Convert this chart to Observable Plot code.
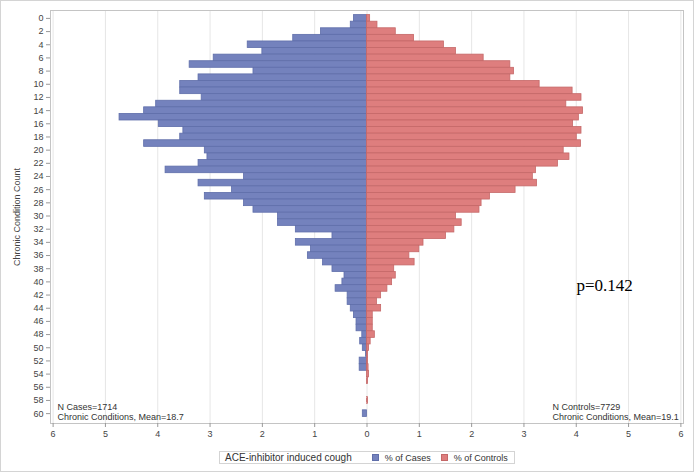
<!DOCTYPE html>
<html>
<head>
<meta charset="utf-8">
<script src="https://cdn.jsdelivr.net/npm/d3@7"></script>
<script src="https://cdn.jsdelivr.net/npm/@observablehq/plot@0.6"></script>
<style>
  html, body { margin: 0; padding: 0; background: #fff; }
  #wrap { position: relative; width: 695px; height: 473px; overflow: hidden; font-family: "Liberation Sans", Arial, sans-serif; }
  #border { position: absolute; left: 0; top: 0; width: 692px; height: 470px; border: 1px solid #d4d4d4; }
  #chart { position: absolute; left: 0; top: 0; }
  #legend { position: absolute; left: 219px; top: 451px; width: 294px; height: 11px; border: 1px solid #d4d4d4; font-size: 10px; color: #333; display: flex; align-items: center; white-space: nowrap; background: #fff; }
  #legend .title { margin-left: 5px; margin-right: 20px; }
  #legend .sw { display: inline-block; width: 5px; height: 5px; margin-right: 6px; }
  #legend .item { font-size: 9px; margin-right: 10px; display: flex; align-items: center; }
</style>
</head>
<body>
<div id="wrap">
  <div id="border"></div>
  <div id="chart"></div>
  <div id="legend"></div>
</div>
<script>
// ---- data ----
const counts = d3.range(0, 61);
const casesPct = [
  0.25, 0.31, 0.88, 1.41, 2.28, 2.00, 2.93, 3.39, 2.17, 3.22,
  3.57, 3.57, 3.16, 4.03, 4.26, 4.73, 3.98, 3.51, 3.57, 4.26,
  3.10, 3.05, 3.22, 3.85, 2.35, 3.22, 2.58, 3.10, 2.35, 2.17,
  1.70, 1.70, 1.36, 0.66, 1.36, 1.07, 1.13, 0.84, 0.66, 0.43,
  0.47, 0.60, 0.37, 0.37, 0.31, 0.25, 0.20, 0.20, 0.09, 0.13,
  0.08, 0.02, 0.14, 0.14, 0, 0, 0, 0, 0, 0,
  0.08
];
const controlsPct = [
  0.06, 0.20, 0.55, 0.90, 1.47, 1.70, 2.23, 2.74, 2.81, 2.74,
  3.30, 3.93, 4.10, 3.81, 4.13, 4.05, 3.94, 4.10, 4.01, 4.09,
  3.76, 3.87, 3.65, 3.23, 3.17, 3.25, 2.84, 2.35, 2.19, 2.15,
  1.70, 1.81, 1.67, 1.51, 1.08, 1.00, 0.81, 0.91, 0.52, 0.55,
  0.48, 0.39, 0.27, 0.19, 0.27, 0.11, 0.11, 0.11, 0.15, 0.07,
  0.04, 0.02, 0.02, 0.03, 0.04, 0.02, 0, 0, 0.02, 0,
  0
];
const xTicks = [-6, -5, -4, -3, -2, -1, 0, 1, 2, 3, 4, 5, 6];
const yTicks = d3.range(0, 61, 2);
const yLabel = "Chronic Condition Count";
const legendTitle = "ACE-inhibitor induced cough";
const seriesNames = ["% of Cases", "% of Controls"];
const seriesColors = ["#7482bd", "#de7e7e"];
const seriesStrokes = ["#5f6eaa", "#c56868"];
const nCases = 1714, meanCases = 18.7;
const nControls = 7729, meanControls = 19.1;
const pValue = "p=0.142";

const rows = counts.map((k, i) => ({k, cases: casesPct[i], controls: controlsPct[i]}));

const chart = Plot.plot({
  width: 695,
  height: 442,
  marginLeft: 50,
  marginRight: 12,
  marginTop: 10,
  marginBottom: 19,
  style: {fontFamily: "'Liberation Sans', Arial, sans-serif", fontSize: "9px", color: "#444", background: "transparent"},
  x: {domain: [-6.05, 6.05]},
  y: {domain: [-1.2, 61.5], reverse: true},
  marks: [
    Plot.gridX(xTicks, {stroke: "#e6e6e6", strokeOpacity: 1}),
    Plot.rectX(rows.filter(d => d.cases > 0), {
      x1: 0, x2: d => -d.cases,
      y1: d => d.k - 0.5, y2: d => d.k + 0.5,
      fill: seriesColors[0], stroke: seriesStrokes[0], strokeWidth: 0.8
    }),
    Plot.rectX(rows.filter(d => d.controls > 0), {
      x1: 0, x2: d => d.controls,
      y1: d => d.k - 0.5, y2: d => d.k + 0.5,
      fill: seriesColors[1], stroke: seriesStrokes[1], strokeWidth: 0.8
    }),
    Plot.frame({stroke: "#c4c4c4"}),
    Plot.axisX({ticks: xTicks, tickFormat: d => Math.abs(d), tickSize: 4, tickPadding: 3, label: null, stroke: "#999"}),
    Plot.axisY({ticks: yTicks, tickSize: 4, tickPadding: 3, label: yLabel, labelAnchor: "center", labelArrow: "none", labelOffset: 37, stroke: "#999"}),
    Plot.text([`N Cases=${nCases}\nChronic Conditions, Mean=${meanCases}`], {
      frameAnchor: "bottom-left", textAnchor: "start", lineAnchor: "bottom",
      dx: 7, dy: -4, fontSize: 9, lineHeight: 1.08, fill: "#333"
    }),
    Plot.text([`N Controls=${nControls}\nChronic Conditions, Mean=${meanControls}`], {
      frameAnchor: "bottom-right", textAnchor: "start", lineAnchor: "bottom",
      dx: -131, dy: -4, fontSize: 9, lineHeight: 1.08, fill: "#333"
    }),
    Plot.text([pValue], {
      frameAnchor: "top-right", textAnchor: "start", lineAnchor: "middle",
      dx: -107, dy: 275, fontSize: 17, fontFamily: "'Liberation Serif', 'Times New Roman', serif", fill: "#000"
    })
  ]
});
document.getElementById("chart").appendChild(chart);

// legend
const lg = document.getElementById("legend");
const t = document.createElement("span");
t.className = "title";
t.textContent = legendTitle;
lg.appendChild(t);
seriesNames.forEach((name, i) => {
  const it = document.createElement("span");
  it.className = "item";
  const sw = document.createElement("span");
  sw.className = "sw";
  sw.style.background = seriesColors[i];
  sw.style.border = "1px solid " + seriesStrokes[i];
  it.appendChild(sw);
  const tx = document.createElement("span");
  tx.textContent = name;
  it.appendChild(tx);
  lg.appendChild(it);
});
</script>
</body>
</html>
